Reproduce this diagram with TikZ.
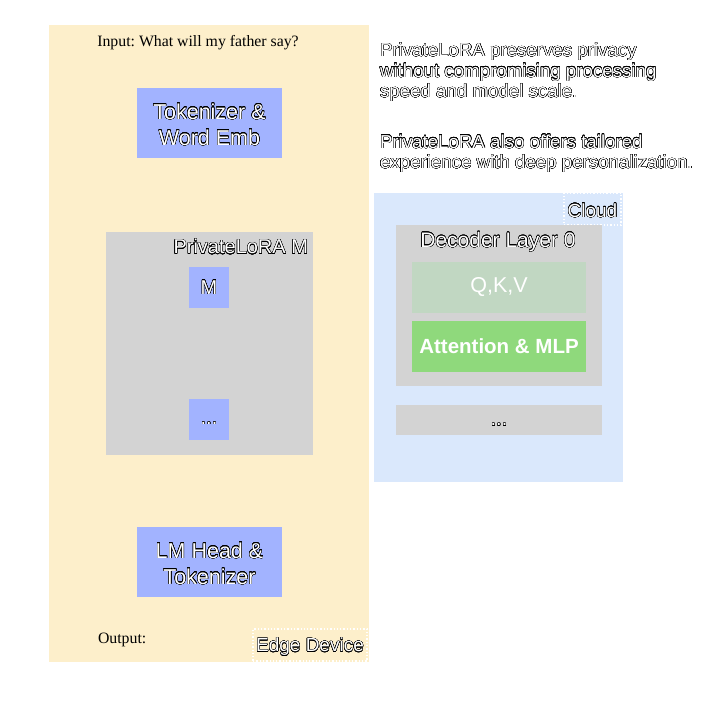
\documentclass[tikz,border=0pt]{standalone}
\usepackage{fontspec}
\setmainfont{Liberation Sans}
\newfontfamily\serifface{Liberation Serif}
\usepackage[copies]{contour}
\contourlength{0.32pt}
\contournumber{24}
\definecolor{edgebg}{HTML}{FDEFCB}
\definecolor{cloudbg}{HTML}{DAE8FC}
\definecolor{graybox}{HTML}{D3D3D3}
\definecolor{bluebox}{HTML}{A2B3FF}
\definecolor{qkvbox}{HTML}{C1D7C2}
\definecolor{attbox}{HTML}{8FD97C}
\newcommand{\otext}[1]{\contour{black}{\textcolor{white}{#1}}}
\frenchspacing
\tikzset{
  panel/.style={anchor=north west, inner sep=0pt, outer sep=0pt},
  bluebx/.style={panel, fill=bluebox},
  graybx/.style={panel, fill=graybox},
  lbl/.style={inner sep=0pt, outer sep=0pt},
  dotbox/.style={draw=white, line width=1.3pt, dotted, inner sep=0pt, outer sep=0pt, anchor=north west},
}
\begin{document}
\begin{tikzpicture}[x=1pt,y=-1pt]
\useasboundingbox (0,0) rectangle (720,720);
% panels
\node[panel, fill=edgebg, minimum width=320pt, minimum height=637pt] (edge) at (49,25) {};
\node[panel, fill=cloudbg, minimum width=249pt, minimum height=289pt] (cloud) at (374,193) {};
% edge device content
\node[lbl, font=\serifface\fontsize{15.8}{18}\selectfont] (input) at (198,43) {Input: What will my father say?};
\node[bluebx, minimum width=145pt, minimum height=70pt] (tok) at (137,88) {};
\node[lbl, align=center, font=\fontsize{21.5}{26}\selectfont] (toktxt) at ([yshift=-1.5pt]tok.center) {\otext{Tokenizer \&}\\\otext{Word Emb}};
\node[graybx, minimum width=207pt, minimum height=223pt] (plora) at (106,232) {};
\node[lbl, anchor=east, font=\fontsize{20}{22}\selectfont] (ploratxt) at (308,247) {\otext{PrivateLoRA M}};
\node[bluebx, minimum width=40pt, minimum height=41pt] (m) at (189,267) {};
\node[lbl, font=\fontsize{20}{22}\selectfont] (mtxt) at (m.center) {\otext{M}};
\node[bluebx, minimum width=40pt, minimum height=41pt] (mdots) at (189,399) {};
\node[lbl, font=\fontsize{20}{22}\selectfont] (mdotstxt) at ([yshift=-4pt]mdots.center) {\otext{...}};
\node[bluebx, minimum width=145pt, minimum height=70pt] (lmh) at (137,527) {};
\node[lbl, align=center, font=\fontsize{21.5}{26}\selectfont] (lmhtxt) at ([yshift=-1.5pt]lmh.center) {\otext{LM Head \&}\\\otext{Tokenizer}};
\node[lbl, anchor=west, font=\serifface\fontsize{15.8}{18}\selectfont] (output) at (98,640) {Output:};
\node[dotbox, minimum width=114pt, minimum height=32pt] (edgelbl) at (253,629) {};
\node[lbl, font=\fontsize{19}{21}\selectfont] (edgetxt) at ([yshift=-2pt]edgelbl.center) {\otext{Edge Device}};
% cloud content
\node[dotbox, minimum width=57pt, minimum height=32pt] (cloudlbl) at (564,193) {};
\node[lbl, font=\fontsize{19}{21}\selectfont] (cloudtxt) at ([yshift=-1.5pt]cloudlbl.center) {\otext{Cloud}};
\node[graybx, minimum width=206pt, minimum height=161pt] (dec) at (396,225) {};
\node[lbl, font=\fontsize{21}{23}\selectfont] (dectxt) at (498,242) {\otext{Decoder Layer 0}};
\node[panel, fill=qkvbox, minimum width=174pt, minimum height=51pt] (qkv) at (412,262) {};
\node[lbl, font=\fontsize{21.5}{24}\selectfont, text=white] (qkvtxt) at (qkv.center) {Q,K,V};
\node[panel, fill=attbox, minimum width=174pt, minimum height=51pt] (att) at (412,321) {};
\node[lbl, font=\bfseries\fontsize{20.5}{23}\selectfont, text=white] (atttxt) at (att.center) {Attention \& MLP};
\node[graybx, minimum width=206pt, minimum height=30pt] (decdots) at (396,405) {};
\node[lbl, font=\fontsize{20}{22}\selectfont] (decdotstxt) at ([yshift=-5pt]decdots.center) {\otext{...}};
% right text
\node[lbl, anchor=north west, align=left, font=\fontsize{18.7}{20.5}\selectfont] (desc1) at (380,43) {\otext{PrivateLoRA preserves privacy}\\\otext{without compromising processing}\\\otext{speed and model scale.}};
\node[lbl, anchor=north west, align=left, font=\fontsize{18.7}{20.5}\selectfont] (desc2) at (380,134.5) {\otext{PrivateLoRA also offers tailored}\\\otext{experience with deep personalization.}};
\end{tikzpicture}
\end{document}
